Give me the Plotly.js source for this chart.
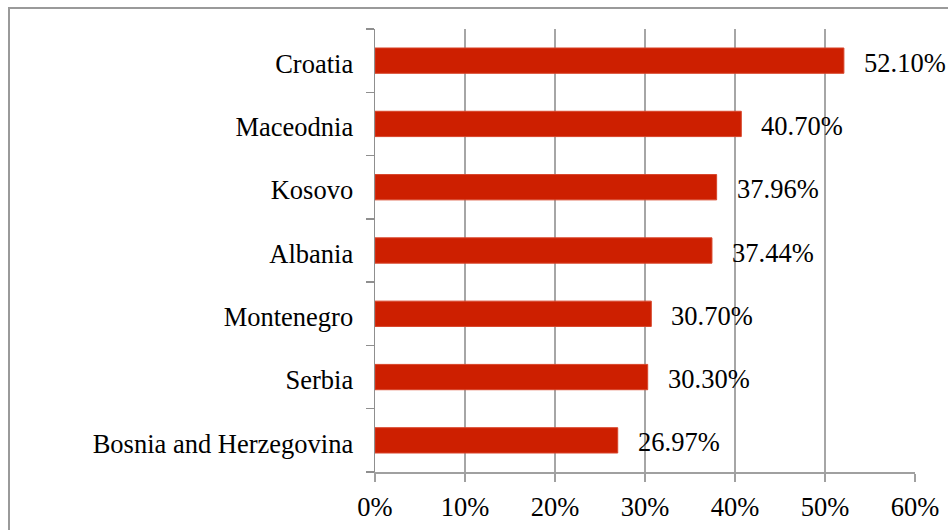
<!DOCTYPE html>
<html>
<head>
<meta charset="utf-8">
<script src="https://cdn.plot.ly/plotly-3.0.1.min.js"></script>
<style>
html,body{margin:0;padding:0;background:#fff;}
#chart{width:948px;height:530px;position:relative;}
#frame{position:absolute;left:8px;top:7px;width:1000px;height:600px;border:2px solid #9a9a9a;box-sizing:border-box;pointer-events:none;z-index:10;}
#wrap{position:relative;width:948px;height:530px;overflow:hidden;}
</style>
</head>
<body>
<div id="wrap"><div id="chart"></div><div id="frame"></div></div>
<script>
const countries = ["Bosnia and Herzegovina","Serbia","Montenegro","Albania","Kosovo","Maceodnia","Croatia"];
const values = [26.97, 30.30, 30.70, 37.44, 37.96, 40.70, 52.10];
const valueLabels = ["26.97%","30.30%","30.70%","37.44%","37.96%","40.70%","52.10%"];
const xTicks = [0,10,20,30,40,50,60];
const xTickLabels = ["0%","10%","20%","30%","40%","50%","60%"];

const font = {family: "'Liberation Serif','Times New Roman',serif", size: 26.5, color: "#000"};

const trace = {
  type: "bar",
  orientation: "h",
  y: countries,
  x: values,
  width: 0.4,
  marker: {color: "#cd1f00", line: {color: "#d8452a", width: 1}},
  hoverinfo: "skip"
};

const annotations = values.map((v, i) => ({
  x: v, y: countries[i], xref: "x", yref: "y",
  text: valueLabels[i], showarrow: false,
  xanchor: "left", xshift: 18, yshift: -2,
  font: font
}));

const layout = {
  width: 948, height: 530,
  margin: {l: 375, r: 33, t: 29, b: 58, pad: 0},
  paper_bgcolor: "#fff", plot_bgcolor: "#fff",
  font: font,
  showlegend: false,
  xaxis: {
    range: [0, 60], tickvals: xTicks, ticktext: xTickLabels,
    showgrid: true, gridcolor: "#a6a6a6", gridwidth: 1.3,
    showline: true, linecolor: "#a0a0a0", linewidth: 1.5,
    ticks: "outside", ticklen: 8, tickcolor: "#a0a0a0", tickwidth: 1.5,
    zeroline: false, tickfont: font, ticklabelstandoff: 3, fixedrange: true
  },
  yaxis: {
    type: "category", categoryorder: "array", categoryarray: countries,
    showline: true, linecolor: "#8f8f8f", linewidth: 1.5,
    ticks: "outside", tickson: "boundaries", ticklen: 8, tickcolor: "#8f8f8f", tickwidth: 1.5,
    showgrid: false, zeroline: false, tickfont: font, ticklabelstandoff: 15, ticklabelshift: 3, fixedrange: true
  },
  annotations: annotations
};

Plotly.newPlot("chart", [trace], layout, {staticPlot: true, displayModeBar: false});
</script>
</body>
</html>
